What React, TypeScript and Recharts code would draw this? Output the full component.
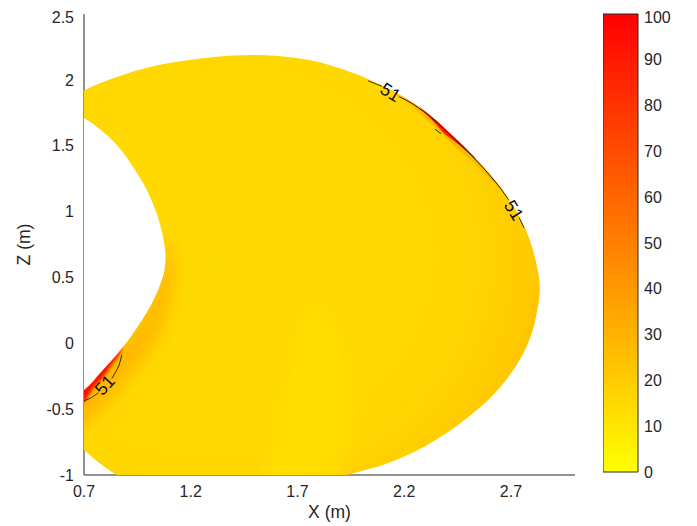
import React from "react";
import { ComposedChart, Bar, Scatter, XAxis, YAxis } from "recharts";

const xTicks = [0.7, 1.2, 1.7, 2.2, 2.7];
const zTicks = [-1, -0.5, 0, 0.5, 1, 1.5, 2, 2.5];
const colorTicks = [0, 10, 20, 30, 40, 50, 60, 70, 80, 90, 100];
const colorMax = 100;

// outline of the section (closed, runs past the axes and gets clipped)
const bodyX = [0.55, 0.7, 0.856, 1.013, 1.169, 1.324, 1.481, 1.62, 1.75, 1.853, 2.041, 2.244, 2.338, 2.431, 2.557, 2.65, 2.713, 2.776, 2.815, 2.835, 2.822, 2.797, 2.75, 2.69, 2.6, 2.5, 2.4, 2.3, 2.2, 2.1, 2.0, 1.9, 1.7, 1.5, 1.3, 1.1, 0.95, 0.853, 0.775, 0.7, 0.55, 0.45];
const bodyZ = [1.78, 1.92, 2.024, 2.1, 2.145, 2.176, 2.189, 2.18, 2.152, 2.11, 1.999, 1.824, 1.708, 1.568, 1.366, 1.189, 1.037, 0.835, 0.632, 0.43, 0.24, 0.075, -0.1, -0.25, -0.42, -0.56, -0.68, -0.78, -0.86, -0.925, -0.97, -1.015, -1.1, -1.18, -1.22, -1.18, -1.1, -1.0, -0.912, -0.81, -0.6, 0.6];

// inner hole
const holeX = [0.55, 0.7, 0.78, 0.845, 0.895, 0.939, 0.977, 1.009, 1.037, 1.059, 1.073, 1.082, 1.077, 1.056, 1.021, 0.972, 0.918, 0.852, 0.78, 0.7, 0.55, 0.4];
const holeZ = [1.86, 1.71, 1.619, 1.52, 1.422, 1.316, 1.217, 1.113, 1.003, 0.885, 0.784, 0.67, 0.556, 0.442, 0.313, 0.177, 0.047, -0.089, -0.218, -0.355, -0.5, 0.67];

// brighter tongue rising from the bottom edge
const plumeX = [1.56, 1.6, 1.66, 1.73, 1.79, 1.86, 1.93, 1.96, 1.9, 1.86];
const plumeZ = [-1.2, -0.6, -0.15, 0.18, 0.27, 0.18, -0.15, -0.6, -0.95, -1.2];

// warm band along the lower inner edge
const glowX = [0.55, 0.7, 0.8, 0.9, 1.0, 1.06, 1.09, 1.12, 1.1, 1.04, 0.96, 0.86, 0.72, 0.55];
const glowZ = [-0.2, -0.25, -0.12, 0.05, 0.3, 0.6, 0.8, 0.6, 0.3, 0.05, -0.15, -0.35, -0.58, -0.7];

// hot spot on the lower inner edge
const redX = [0.6, 0.7, 0.78, 0.85, 0.88, 0.865, 0.825, 0.785, 0.74, 0.7, 0.6];
const redZ = [-0.3, -0.33, -0.19, -0.07, -0.02, -0.085, -0.175, -0.27, -0.345, -0.445, -0.56];

// hot strip along the upper outer edge
const haloX = [2.12, 2.2, 2.26, 2.35, 2.43, 2.52, 2.6, 2.66, 2.6, 2.52, 2.43, 2.35, 2.26, 2.2];
const haloZ = [1.94, 1.868, 1.805, 1.69, 1.57, 1.425, 1.282, 1.165, 1.25, 1.38, 1.505, 1.63, 1.765, 1.85];
const sheathX = [2.27, 2.31, 2.35, 2.39, 2.43, 2.48, 2.54, 2.48, 2.43, 2.39, 2.35, 2.31];
const sheathZ = [1.795, 1.747, 1.693, 1.633, 1.572, 1.496, 1.394, 1.475, 1.54, 1.588, 1.662, 1.73];

// 51 contour, split where the labels sit
const contourLevel = 51;
const upperAX = [2.03, 2.06, 2.095];
const upperAZ = [1.993, 1.974, 1.952];
const upperBX = [2.175, 2.244, 2.338, 2.431, 2.557, 2.65, 2.688];
const upperBZ = [1.873, 1.813, 1.697, 1.557, 1.355, 1.178, 1.09];
const upperCX = [2.738, 2.762];
const upperCZ = [0.955, 0.875];
const lowerAX = [0.7, 0.736, 0.767];
const lowerAZ = [-0.437, -0.411, -0.375];
const lowerBX = [0.83, 0.861, 0.877];
const lowerBZ = [-0.268, -0.178, -0.089];
const dashX = [2.345, 2.372];
const dashZ = [1.625, 1.59];

const labelX = [2.135, 2.713, 0.798];
const labelZ = [1.905, 1.01, -0.317];
const labelAngles = [32, 58, -47];

const rows = (xs: number[], zs: number[]) => xs.map((x, i) => ({ x, z: zs[i] }));
const labelRows = labelX.map((x, i) => ({ x, z: labelZ[i], level: contourLevel, i }));

const ink = "#262626";
const tickFont = { fontSize: 16, fill: ink };

// centripetal Catmull-Rom through the projected points
function smoothPath(pts: { x: number; y: number }[], closed: boolean) {
  const n = pts.length;
  if (n < 2) return "";
  const at = (i: number) => (closed ? pts[(i + n) % n] : pts[Math.max(0, Math.min(n - 1, i))]);
  const dist = (a: any, b: any) => Math.hypot(a.x - b.x, a.y - b.y);
  let d = `M${pts[0].x},${pts[0].y}`;
  const segs = closed ? n : n - 1;
  for (let i = 0; i < segs; i++) {
    const p0 = at(i - 1);
    const p1 = at(i);
    const p2 = at(i + 1);
    const p3 = at(i + 2);
    const l01 = dist(p0, p1), l12 = dist(p1, p2), l23 = dist(p2, p3);
    const a01 = Math.sqrt(l01), a12 = Math.sqrt(l12), a23 = Math.sqrt(l23);
    let c1x = p1.x, c1y = p1.y, c2x = p2.x, c2y = p2.y;
    if (a01 > 1e-6) {
      const a = 2 * l01 + 3 * a01 * a12 + l12;
      const m = 3 * a01 * (a01 + a12);
      c1x = (p1.x * a - p0.x * l12 + p2.x * l01) / m;
      c1y = (p1.y * a - p0.y * l12 + p2.y * l01) / m;
    }
    if (a23 > 1e-6) {
      const b = 2 * l23 + 3 * a23 * a12 + l12;
      const m = 3 * a23 * (a23 + a12);
      c2x = (p2.x * b + p1.x * l23 - p3.x * l12) / m;
      c2y = (p2.y * b + p1.y * l23 - p3.y * l12) / m;
    }
    d += ` C${c1x},${c1y} ${c2x},${c2y} ${p2.x},${p2.y}`;
  }
  return closed ? d + "Z" : d;
}

const Outline = (props: any) => {
  const { points, paint, closed, blur, alpha = 1, pen } = props;
  return (
    <path
      d={smoothPath(points, !!closed)}
      fill={closed ? paint : "none"}
      fillOpacity={alpha}
      stroke={pen ?? "none"}
      strokeWidth={pen ? 0.9 : 0}
      style={blur ? { filter: `blur(${blur}px)` } : undefined}
    />
  );
};

const NoDot = () => <g />;

const ContourLabel = (props: any) => {
  const { cx, cy, payload } = props;
  const a = labelAngles[payload.i];
  return (
    <text
      x={cx}
      y={cy}
      transform={`rotate(${a} ${cx} ${cy})`}
      textAnchor="middle"
      dominantBaseline="central"
      fontSize={18}
      fill="#111"
    >
      {payload.level}
    </text>
  );
};

function ColorBar() {
  const bar = [{ name: "level", top: colorMax }];
  return (
    <ComposedChart width={94} height={478} data={bar} margin={{ top: 6, right: 0, bottom: 14, left: 0 }} barCategoryGap={0}>
      <defs>
        <linearGradient id="cbFill" x1="0" y1="0" x2="0" y2="1">
          <stop offset="0%" stopColor="#ff0000" />
          <stop offset="100%" stopColor="#ffff00" />
        </linearGradient>
      </defs>
      <XAxis dataKey="name" type="category" hide />
      <Bar dataKey="top" fill="url(#cbFill)" stroke={ink} strokeWidth={1} isAnimationActive={false} />
      <YAxis
        orientation="right"
        type="number"
        domain={[0, colorMax]}
        ticks={colorTicks}
        width={59}
        axisLine={false}
        tickLine={false}
        tickSize={0}
        tickMargin={6}
        tick={tickFont}
      />
      <YAxis yAxisId="cbr" orientation="right" mirror type="number" domain={[0, colorMax]} ticks={colorTicks} tick={false} axisLine={false} tickSize={4} tickLine={{ stroke: ink }} />
      <YAxis yAxisId="cbl" orientation="left" mirror type="number" domain={[0, colorMax]} ticks={colorTicks} tick={false} axisLine={false} tickSize={4} tickLine={{ stroke: ink }} />
    </ComposedChart>
  );
}

const fills: { xs: number[]; zs: number[]; paint: string; alpha?: number; blur?: number }[] = [
  { xs: bodyX, zs: bodyZ, paint: "url(#bodyFill)" },
  { xs: plumeX, zs: plumeZ, paint: "#ffe300", alpha: 0.55, blur: 7 },
  { xs: glowX, zs: glowZ, paint: "#ff9800", alpha: 0.5, blur: 8 },
  { xs: haloX, zs: haloZ, paint: "#ff9000", alpha: 0.4 },
  { xs: sheathX, zs: sheathZ, paint: "#ff1500", alpha: 0.92, blur: 0.6 },
  { xs: redX, zs: redZ, paint: "#ff1000", blur: 1.5 },
  { xs: holeX, zs: holeZ, paint: "#ffffff" },
];

const contours: { xs: number[]; zs: number[] }[] = [
  { xs: upperAX, zs: upperAZ },
  { xs: upperBX, zs: upperBZ },
  { xs: upperCX, zs: upperCZ },
  { xs: lowerAX, zs: lowerAZ },
  { xs: lowerBX, zs: lowerBZ },
  { xs: dashX, zs: dashZ },
];

export default function App() {
  return (
    <div style={{ position: "relative", width: 689, height: 518, fontFamily: '"Liberation Sans", Arial, sans-serif' }}>
      <ComposedChart width={689} height={518} margin={{ top: 6, right: 122, bottom: 0, left: 0 }}>
        <defs>
          <radialGradient id="bodyFill" cx="0.35" cy="0.45" r="0.7">
            <stop offset="0%" stopColor="#ffda00" />
            <stop offset="70%" stopColor="#ffd700" />
            <stop offset="88%" stopColor="#ffcc00" />
            <stop offset="100%" stopColor="#ffbc00" />
          </radialGradient>
        </defs>
        {fills.map((f, k) => (
          <Scatter
            key={`fill-${k}`}
            data={rows(f.xs, f.zs)}
            shape={NoDot}
            line={<Outline closed paint={f.paint} alpha={f.alpha} blur={f.blur} />}
            isAnimationActive={false}
          />
        ))}
        {contours.map((c, k) => (
          <Scatter
            key={`contour-${k}`}
            data={rows(c.xs, c.zs)}
            shape={NoDot}
            line={<Outline pen="#111" />}
            isAnimationActive={false}
          />
        ))}
        <Scatter data={labelRows} shape={ContourLabel} isAnimationActive={false} />
        <XAxis
          type="number"
          dataKey="x"
          domain={[0.7, 3]}
          ticks={xTicks}
          allowDataOverflow
          height={51}
          axisLine={{ stroke: ink }}
          tickLine={false}
          tickSize={0}
          tickMargin={11}
          tick={tickFont}
          label={{ value: "X (m)", position: "insideBottom", offset: 8, fontSize: 17.5, fill: ink }}
        />
        <XAxis xAxisId="xt" type="number" orientation="bottom" mirror domain={[0.7, 3]} ticks={xTicks} allowDataOverflow tick={false} axisLine={false} tickSize={4} tickLine={{ stroke: ink }} />
        <YAxis
          type="number"
          dataKey="z"
          domain={[-1, 2.5]}
          ticks={zTicks}
          allowDataOverflow
          width={76}
          axisLine={{ stroke: ink }}
          tickLine={false}
          tickSize={0}
          tickMargin={10}
          tick={tickFont}
          label={{ value: "Z (m)", angle: -90, position: "insideLeft", offset: 16, fontSize: 17.5, fill: ink, style: { textAnchor: "middle" } }}
        />
        <YAxis yAxisId="zt" type="number" orientation="left" mirror domain={[-1, 2.5]} ticks={zTicks} allowDataOverflow tick={false} axisLine={false} tickSize={4} tickLine={{ stroke: ink }} />
      </ComposedChart>
      <div style={{ position: "absolute", left: 595, top: 0 }}>
        <ColorBar />
      </div>
    </div>
  );
}
